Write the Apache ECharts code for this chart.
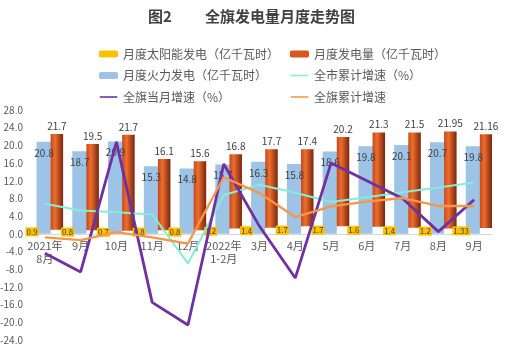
<!DOCTYPE html>
<html><head><meta charset="utf-8">
<script src="https://cdn.jsdelivr.net/npm/echarts@6/dist/echarts.min.js"></script>
<style>html,body{margin:0;padding:0;background:#fff}#c{width:505px;height:355px}</style>
</head><body><div id="c"></div>
<script>
var categories = ['2021年\n8月','9月','10月','11月','12月','2022年\n1-2月','3月','4月','5月','6月','7月','8月','9月'];
var solar = [0.9,0.8,0.7,0.8,0.8,1.2,1.4,1.7,1.7,1.6,1.4,1.2,1.33];
var thermal = [20.8,18.7,20.9,15.3,14.8,15.7,16.3,15.8,18.6,19.8,20.1,20.7,19.8];
var total = [21.7,19.5,21.7,16.1,15.6,16.8,17.7,17.4,20.2,21.3,21.5,21.95,21.16];
var cityCum = [6.8,5.3,4.9,4.4,-6.7,8.8,11.1,9.3,7.2,8.3,9.4,10.5,11.6];
var bannerMonth = [-4.4,-8.6,20.8,-15.5,-20.6,15.8,1.7,-10.0,16.0,12.0,8.0,0.5,7.7];
var bannerCum = [-0.8,-1.4,0.4,-0.8,-2.2,12.8,9.2,3.8,6.2,7.3,8.1,6.3,6.3];
var yTicks = {min:-24, max:28, interval:4};

var FONT = 'Noto Sans CJK SC';
var N1='月度太阳能发电（亿千瓦时）', N2='月度发电量（亿千瓦时）', N3='月度火力发电（亿千瓦时）',
    N4='全市累计增速（%）', N5='全旗当月增速（%）', N6='全旗累计增速';
var chart = echarts.init(document.getElementById('c'));
var orangeGrad = new echarts.graphic.LinearGradient(0,0,1,0,[
  {offset:0,color:'#C9471B'},{offset:0.35,color:'#EC6F2C'},{offset:1,color:'#7A2510'}]);
var legendText = {fontFamily:FONT,fontSize:12,color:'#595959'};
var lineIcon = 'path://M0,0M20,8M0,3.1h20v1.8h-20z';
var gridTop = 110, gridBottom = 15, chartH = 355;
var plotH = chartH - gridTop - gridBottom;
var zeroOffset = -plotH * (0 - yTicks.min) / (yTicks.max - yTicks.min);
chart.setOption({
  animation:false,
  textStyle:{fontFamily:FONT},
  title:[
    {text:'图2',left:148,top:9,padding:0,textStyle:{fontFamily:FONT,fontSize:15,fontWeight:'bold',color:'#404040'}},
    {text:'全旗发电量月度走势图',left:205,top:9,padding:0,textStyle:{fontFamily:FONT,fontSize:15,fontWeight:'bold',color:'#404040'}}
  ],
  legend:[
    {left:99,top:48,padding:0,orient:'vertical',itemGap:9.5,itemWidth:19,itemHeight:7,textStyle:legendText,
     data:[{name:N1},{name:N3},{name:N5,icon:lineIcon}]},
    {left:290,top:48,padding:0,orient:'vertical',itemGap:9.5,itemWidth:19,itemHeight:7,textStyle:legendText,
     data:[{name:N2,itemStyle:{color:'#D9561F'}},{name:N4,icon:lineIcon},{name:N6,icon:lineIcon}]}
  ],
  grid:{left:27,right:13,top:gridTop,bottom:gridBottom,outerBoundsMode:'none',containLabel:false},
  xAxis:{type:'category',data:categories,offset:zeroOffset,
    axisLine:{onZero:false,lineStyle:{color:'#D9D9D9'}},axisTick:{show:false},
    axisLabel:{color:'#595959',fontSize:11,margin:5,lineHeight:13,interval:0}},
  yAxis:{type:'value',min:yTicks.min,max:yTicks.max,interval:yTicks.interval,
    axisLine:{show:false},axisTick:{show:false},splitLine:{show:false},
    axisLabel:{color:'#595959',fontSize:10,margin:4,formatter:function(v){return v.toFixed(1);}}},
  series:[
    {name:N1,type:'bar',data:solar,barWidth:10.5,barGap:'-6%',barCategoryGap:0,
     itemStyle:{color:'#FFC000'},
     label:{show:true,position:'inside',fontSize:8,color:'#404040',backgroundColor:'#FFC000',padding:[1,1,0,1],
       formatter:function(p){return p.value;}}},
    {name:N3,type:'bar',data:thermal,barWidth:15,barGap:'-6%',
     itemStyle:{color:'#9DC3E6'},
     label:{show:true,position:'insideTop',distance:6,fontSize:10,color:'#404040'}},
    {name:'base',type:'bar',stack:'a',data:solar,barWidth:12.5,barGap:'-6%',silent:true,
     itemStyle:{color:'#FFFFFF'},label:{show:false}},
    {name:N2,type:'bar',stack:'a',data:total,barWidth:12.5,barGap:'-6%',
     itemStyle:{color:orangeGrad},
     label:{show:true,position:'top',distance:3,fontSize:10,color:'#404040'}},
    {name:N4,type:'line',data:cityCum,symbol:'none',lineStyle:{color:'#86EDD5',width:2},itemStyle:{color:'#86EDD5'}},
    {name:N5,type:'line',data:bannerMonth,symbol:'none',lineStyle:{color:'#7030A0',width:2.8},itemStyle:{color:'#7030A0'}},
    {name:N6,type:'line',data:bannerCum,symbol:'none',lineStyle:{color:'#F79646',width:2.3},itemStyle:{color:'#F79646'}}
  ]
});
</script></body></html>
